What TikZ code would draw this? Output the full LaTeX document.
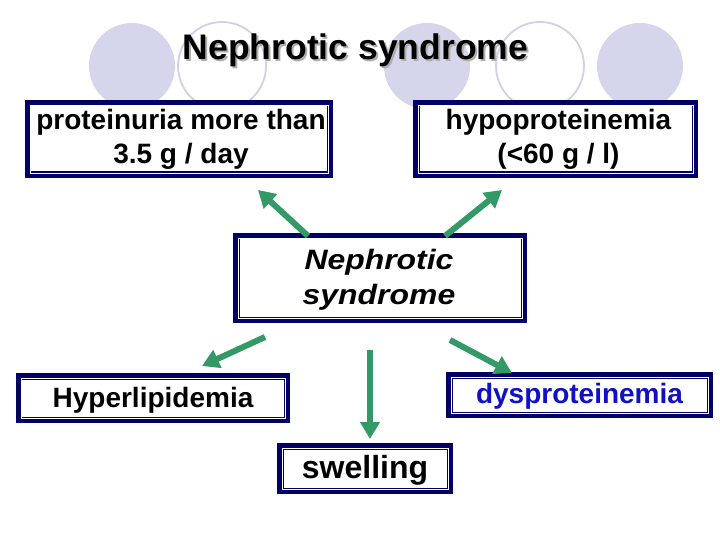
\documentclass[tikz,border=0pt]{standalone}
\usepackage{fontspec}
\setmainfont{Liberation Sans}
\newfontfamily\stretchsans[FakeStretch=1.14]{Liberation Sans}
\usetikzlibrary{arrows.meta}
\definecolor{navy}{RGB}{0,0,102}
\definecolor{arrgreen}{RGB}{51,153,102}
\definecolor{lav}{RGB}{213,213,235}
\definecolor{lavline}{RGB}{208,208,230}
\definecolor{dysblue}{RGB}{16,16,200}
\definecolor{shadowgray}{RGB}{175,175,175}
\newcommand\innerline[1]{\draw[innerl] ([shift={(1.7,1.7)}]#1.north west) rectangle ([shift={(-1.7,-1.7)}]#1.south east);}
\tikzset{
  box/.style={draw=navy, fill=white, line width=6.5bp, outer sep=0pt, inner sep=0pt},
  txt/.style={align=center, inner sep=0pt, font=\fontsize{28bp}{34bp}\selectfont\bfseries},
  innerl/.style={draw=white, line width=0.8bp},
  arr/.style={draw=arrgreen, line width=6bp, -{Triangle[width=19bp,length=17bp]}},
  bgdisc/.style={fill=lav, draw=none},
  bgring/.style={draw=lavline, line width=1.8bp, fill=none},
  titlefont/.style={font=\fontsize{35.5bp}{40bp}\selectfont\bfseries},
}
\begin{document}
\begin{tikzpicture}[x=1bp, y=-1bp]
\useasboundingbox (0,0) rectangle (720,540);
% background circles
\fill[bgdisc] (132,66) circle (43);
\draw[bgring] (222,66) circle (44);
\fill[bgdisc] (427,66) circle (43);
\draw[bgring] (540,66) circle (44);
\fill[bgdisc] (640,66) circle (43);
% title
\node[titlefont, text=shadowgray, anchor=base] (titleshadow) at (357.5,62) {Nephrotic syndrome};
\node[titlefont, anchor=base] (title) at (355.5,60) {Nephrotic syndrome};
% arrow end points
\coordinate (a1s) at (308,236);
\coordinate (a1e) at (258,190);
\coordinate (a2s) at (445,236);
\coordinate (a2e) at (502,190);
\coordinate (a3s) at (265,337);
\coordinate (a3e) at (202,366);
\coordinate (a4s) at (370,350);
\coordinate (a4e) at (370,439);
\coordinate (a5s) at (450,340);
\coordinate (a5e) at (512,373);
% boxes
\node[box, minimum width=301.5bp, minimum height=71.5bp] (b1) at (179,139) {};
\innerline{b1}
\node[txt, xshift=2bp] (t1) at (b1) {proteinuria more than\\3.5 g / day};
\node[box, minimum width=278.5bp, minimum height=71.5bp] (b2) at (555.5,139) {};
\innerline{b2}
\node[txt, xshift=3bp] (t2) at (b2) {hypoproteinemia\\(<60 g / l)};
\node[box, minimum width=287.5bp, minimum height=83.5bp] (b3) at (380,278) {};
\innerline{b3}
\node[txt, yshift=-2.2bp, xshift=-1bp, font=\fontsize{28bp}{35bp}\stretchsans\bfseries\itshape] (t3) at (b3)
  {Nephrotic\\syndrome};
\node[box, minimum width=267.5bp, minimum height=43.5bp] (b4) at (153,398) {};
\innerline{b4}
\node[txt, yshift=-2bp] (t4) at (b4) {Hyperlipidemia};
\node[box, minimum width=260.5bp, minimum height=39.5bp] (b5) at (579.5,395) {};
\innerline{b5}
\node[txt, yshift=-1bp, text=dysblue] (t5) at (b5) {dysproteinemia};
\node[box, minimum width=169.5bp, minimum height=44.5bp] (b6) at (365,468.5) {};
\innerline{b6}
\node[txt, yshift=-1.5bp, font=\fontsize{32bp}{36bp}\selectfont\bfseries] (t6) at (b6) {swelling};
% arrows
\draw[arr] (a1s) -- (a1e);
\draw[arr] (a2s) -- (a2e);
\draw[arr] (a3s) -- (a3e);
\draw[arr] (a4s) -- (a4e);
\draw[arr] (a5s) -- (a5e);
\end{tikzpicture}
\end{document}
